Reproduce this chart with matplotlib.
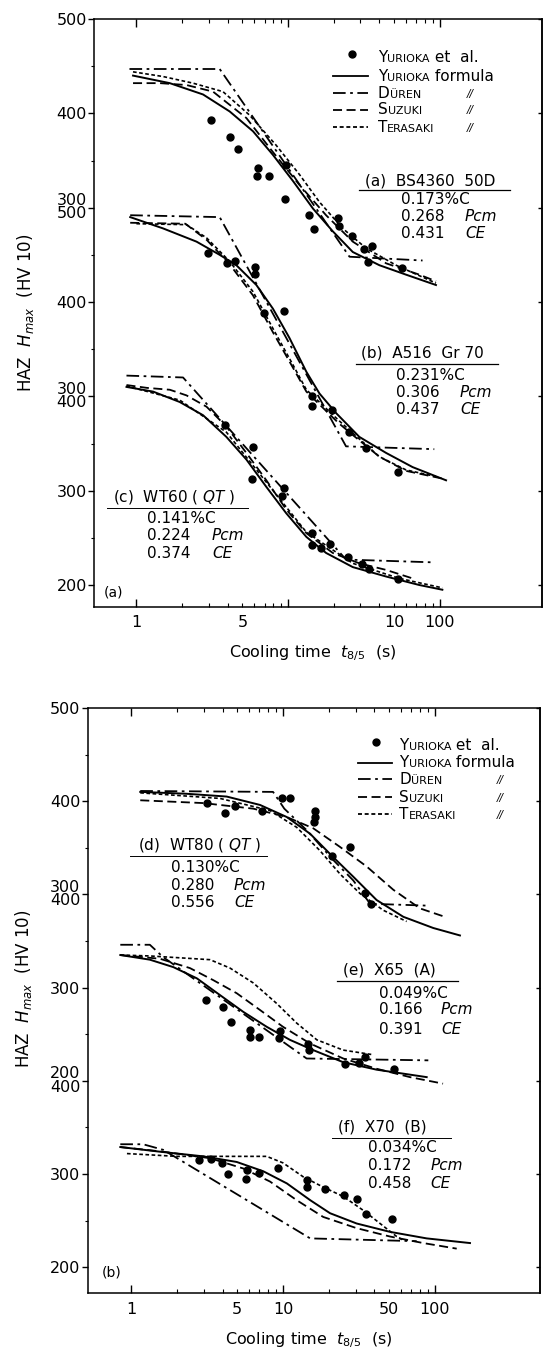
import matplotlib
matplotlib.use("Agg")
import matplotlib.pyplot as plt
from matplotlib.lines import Line2D
from matplotlib.ticker import FixedLocator, NullFormatter

plt.rcParams["font.family"] = "DejaVu Sans"
plt.rcParams["mathtext.fontset"] = "dejavusans"

# ---------------- data (cooling time t8/5 in s, hardness HV) ----------------
# (a) BS4360 50D
a_dot_t = [3.12, 4.17, 4.65, 6.3, 6.21, 7.52, 9.59, 9.73, 13.8, 14.8, 21.3, 21.7, 26.3, 31.7, 35.7, 33.8, 56.5]
a_dot_hv = [393, 375, 362, 342, 334, 334, 309, 345, 292, 277, 289, 281, 270, 256, 259, 242, 236]
a_yur_t = [0.95, 1.66, 2.75, 4.12, 5.87, 7.94, 10.8, 14.6, 19.7, 26.7, 40, 59.9, 94.4]
a_yur_hv = [440, 432, 420, 402, 381, 356, 328, 299, 275, 253, 239, 229, 218]
a_dur_t = [0.9, 3.54, 25.4, 77]
a_dur_hv = [447, 447, 248, 244]
a_suz_t = [0.95, 1.43, 2.14, 3.2, 5.31, 7.94, 11.9, 17.8, 26.7, 44.3, 73.3, 94.4]
a_suz_hv = [432, 432, 430, 423, 395, 359, 324, 292, 264, 241, 229, 222]
a_ter_t = [0.95, 1.5, 2.36, 3.72, 5.58, 8.36, 11.9, 16.1, 22.9, 32.7, 51.5, 94.4]
a_ter_hv = [444, 439, 432, 423, 398, 366, 335, 306, 278, 257, 239, 220]

# (b) A516 Gr 70
b_dot_t = [2.97, 3.96, 4.49, 6.09, 6.02, 6.93, 9.34, 14.4, 14.4, 19.4, 25.4, 32.7, 52.8]
b_dot_hv = [452, 441, 443, 437, 430, 388, 390, 300, 290, 285, 262, 245, 220]
b_yur_t = [0.91, 1.5, 2.49, 3.54, 4.56, 6.18, 7.94, 10.2, 13.2, 16.1, 20.8, 29.5, 44.3, 66.2, 110]
b_yur_hv = [490, 478, 464, 450, 439, 418, 393, 362, 326, 303, 282, 257, 240, 225, 211]
b_dur_t = [0.91, 3.54, 24.1, 92]
b_dur_hv = [492, 490, 247, 244]
b_suz_t = [0.91, 2.1, 2.9, 4.12, 5.87, 7.94, 10.8, 13.2, 21.4, 26.7, 40, 59.9, 110]
b_suz_hv = [484, 483, 466, 440, 407, 368, 330, 305, 272, 259, 236, 221, 212]
b_ter_t = [1.0, 2.14, 2.9, 4.12, 5.87, 7.94, 10.8, 13.2, 21.4, 26.7, 40, 59.9, 94.4]
b_ter_hv = [483, 482, 468, 443, 411, 372, 333, 307, 275, 261, 236, 222, 215]

# (c) WT60 (QT)
c_dot_t = [3.82, 5.87, 5.81, 9.38, 9.16, 14.3, 14.3, 16.5, 19.0, 24.7, 30.8, 34.4, 52.8]
c_dot_hv = [370, 346, 312, 303, 294, 255, 242, 239, 243, 230, 222, 217, 206]
c_yur_t = [0.86, 1.29, 1.93, 2.75, 3.92, 5.31, 7.19, 9.73, 13.2, 17.8, 26.7, 44.3, 73.3, 104]
c_yur_hv = [410, 405, 394, 380, 357, 333, 304, 276, 251, 234, 219, 209, 200, 195]
c_dur_t = [0.86, 2.03, 24.1, 92]
c_dur_hv = [422, 420, 227, 224]
c_suz_t = [0.86, 1.17, 1.66, 2.14, 2.9, 3.92, 5.31, 7.19, 9.73, 13.2, 19.7, 29.5, 44.3, 66.2]
c_suz_hv = [412, 409, 407, 401, 389, 368, 340, 311, 280, 255, 234, 223, 216, 207]
c_ter_t = [0.86, 1.93, 3.92, 7.19, 13.2, 26.7, 54.2, 104]
c_ter_hv = [411, 396, 362, 309, 256, 223, 207, 197]

# (d) WT80 (QT)
d_dot_t = [3.18, 4.17, 4.83, 7.24, 9.8, 11.1, 16.2, 16.2, 16.1, 27.6, 20.9, 34.6, 37.8]
d_dot_hv = [398, 387, 395, 390, 403, 403, 389, 383, 378, 351, 341, 302, 290]
d_yur_t = [1.15, 2.32, 4.26, 7.06, 10.6, 15.1, 21.4, 29, 41.3, 61.9, 97.4, 146]
d_yur_hv = [410, 408, 405, 396, 383, 365, 340, 319, 294, 276, 264, 256]
d_dur_t = [1.15, 8.6, 10.2, 14.3, 21.4, 29, 37.4, 88.6]
d_dur_hv = [411, 410, 392, 369, 337, 315, 290, 288]
d_suz_t = [1.15, 2.99, 6.38, 10.6, 15.8, 23.7, 35.5, 53.2, 79.7, 116]
d_suz_hv = [401, 398, 392, 383, 371, 351, 330, 305, 285, 276]
d_ter_t = [1.15, 3.85, 8.21, 12.3, 17.5, 23.7, 32.1, 45.7, 65.1]
d_ter_hv = [409, 403, 390, 372, 347, 322, 301, 283, 271]

# (e) X65 (A)
e_dot_t = [3.1, 4.01, 4.53, 6.1, 6.06, 6.98, 9.55, 9.46, 14.5, 14.9, 25.6, 31.8, 34.6, 53.7]
e_dot_hv = [287, 279, 263, 255, 247, 247, 254, 246, 240, 233, 218, 219, 226, 213]
e_yur_t = [0.85, 1.33, 1.9, 2.71, 3.85, 5.48, 7.81, 11.1, 15.8, 24.9, 41.3, 88.2]
e_yur_hv = [335, 330, 322, 310, 292, 274, 258, 244, 233, 220, 212, 204]
e_dur_t = [0.85, 1.33, 1.62, 14.3, 90.4]
e_dur_hv = [346, 346, 333, 224, 222]
e_suz_t = [0.85, 1.55, 2.44, 3.48, 4.96, 7.06, 10.0, 15.1, 24.9, 41.3, 68.5, 113]
e_suz_hv = [335, 331, 321, 308, 294, 276, 258, 240, 224, 213, 204, 197]
e_ter_t = [0.85, 1.33, 3.31, 4.48, 6.38, 9.09, 12.3, 16.7, 24.9, 39.3]
e_ter_hv = [335, 334, 330, 321, 305, 283, 262, 244, 233, 228]

# (f) X70 (B)
f_dot_t = [2.81, 3.36, 3.95, 4.37, 5.77, 5.71, 6.95, 9.23, 14.3, 14.3, 18.9, 25.3, 30.8, 35.2, 51.9]
f_dot_hv = [315, 316, 312, 300, 304, 295, 301, 307, 294, 286, 284, 278, 273, 257, 252]
f_yur_t = [0.85, 1.55, 2.99, 4.96, 7.42, 10.6, 15.1, 20.4, 30.5, 50.6, 88.2, 170]
f_yur_hv = [329, 324, 319, 313, 303, 290, 272, 258, 247, 238, 231, 226]
f_dur_t = [0.85, 1.2, 1.63, 15.1, 75.8]
f_dur_hv = [332, 332, 326, 231, 228]
f_suz_t = [0.85, 1.63, 3.31, 5.48, 8.21, 12.3, 18.4, 30.5, 50.6, 83.7, 139]
f_suz_hv = [329, 324, 317, 306, 292, 272, 254, 242, 233, 226, 220]
f_ter_t = [0.94, 2.0, 7.81, 10.0, 13.6, 18.4, 24.9, 33.8, 43.5, 56, 61.9]
f_ter_hv = [322, 319, 319, 312, 297, 286, 276, 261, 247, 233, 229]

# steel compositions: title, %C, Pcm, CE
a_info = ["(a)  BS4360  50D", "0.173%C", "0.268", "0.431"]
b_info = ["(b)  A516  Gr 70", "0.231%C", "0.306", "0.437"]
c_info = [r"(c)  WT60 ( $\mathit{QT}$ )", "0.141%C", "0.224", "0.374"]
d_info = [r"(d)  WT80 ( $\mathit{QT}$ )", "0.130%C", "0.280", "0.556"]
e_info = ["(e)  X65  (A)", "0.049%C", "0.166", "0.391"]
f_info = ["(f)  X70  (B)", "0.034%C", "0.172", "0.458"]

# stacked y-axis labels (bottom to top), pairs at the joins
a_ylabels = ["200", "300", "", "400", "", "400", "500"]
a_pairs = {200: ("300", "400"), 400: ("300", "500")}
b_ylabels = ["200", "300", "", "300", "", "400", "500"]
b_pairs = {200: ("200", "400"), 400: ("300", "400")}
a_xlabels = {1: "1", 5: "5", 50: "10", 100: "100"}
b_xlabels = {1: "1", 5: "5", 10: "10", 50: "50", 100: "100"}

# ---------------- figure ----------------
W, H = 544, 1354
fig = plt.figure(figsize=(W / 100, H / 100), dpi=100)


def fx(px):
    return px / W


def fy(py):
    return 1 - py / H


ax_a = fig.add_axes([fx(94.4), fy(607), (542 - 94.4) / W, (607 - 19) / H])
ax_b = fig.add_axes([fx(88), fy(1293.3), (540 - 88) / W, (1293.3 - 708) / H])

DUR = (0, (7, 2.5, 1.5, 2.5))
SUZ = (0, (5, 2.5))
TER = (0, (2.2, 1.5))


def setup(ax, xlim, ylow, ylabels, pairs, xlabels, xoff):
    ax.set_xscale("log")
    ax.set_xlim(*xlim)
    ax.set_ylim(ylow, 600)
    for s in ax.spines.values():
        s.set_linewidth(1.1)
    ax.xaxis.set_major_locator(FixedLocator([1, 10, 100]))
    ax.xaxis.set_minor_locator(FixedLocator([2, 3, 4, 5, 6, 7, 8, 9, 20, 30, 40, 50, 60, 70, 80, 90]))
    ax.xaxis.set_major_formatter(NullFormatter())
    ax.xaxis.set_minor_formatter(NullFormatter())
    ax.tick_params(axis="x", which="both", direction="in", top=True, bottom=True)
    ax.tick_params(axis="x", which="major", length=6, width=1)
    ax.tick_params(axis="x", which="minor", length=3, width=0.8)
    ax.yaxis.set_major_locator(FixedLocator(list(range(0, 601, 100))))
    ax.yaxis.set_minor_locator(FixedLocator(list(range(50, 600, 100))))
    ax.set_yticklabels(ylabels)
    ax.tick_params(axis="y", which="major", direction="out", length=4.5, width=1, pad=1, labelsize=11.5)
    ax.tick_params(axis="y", which="minor", direction="out", length=2.5, width=0.8)
    sec = ax.secondary_yaxis("right")
    sec.set_yticks(list(range(0, 601, 100)))
    sec.set_yticklabels([])
    sec.tick_params(direction="in", length=3, width=1)
    sec.spines["right"].set_linewidth(1.1)
    for v, (up, low) in pairs.items():
        ax.annotate(up, xy=(0, v), xycoords=("axes fraction", "data"), xytext=(-5.5, 5),
                    textcoords="offset points", ha="right", va="center", fontsize=11.5)
        ax.annotate(low, xy=(0, v), xycoords=("axes fraction", "data"), xytext=(-5.5, -4.5),
                    textcoords="offset points", ha="right", va="center", fontsize=11.5)
    for t, lab in xlabels.items():
        ax.annotate(lab, xy=(t, 0), xycoords=("data", "axes fraction"), xytext=(0, xoff),
                    textcoords="offset points", ha="center", va="center", fontsize=11.5)


def draw(ax, shift, dot_t, dot_hv, yur_t, yur_hv, dur_t, dur_hv, suz_t, suz_hv, ter_t, ter_hv):
    ax.plot(yur_t, [h + shift for h in yur_hv], color="black", lw=1.4)
    ax.plot(dur_t, [h + shift for h in dur_hv], color="black", lw=1.3, linestyle=DUR)
    ax.plot(suz_t, [h + shift for h in suz_hv], color="black", lw=1.3, linestyle=SUZ)
    ax.plot(ter_t, [h + shift for h in ter_hv], color="black", lw=1.2, linestyle=TER)
    ax.plot(dot_t, [h + shift for h in dot_hv], "o", ms=5, color="black")


setup(ax_a, (0.5285, 472), -23.3, a_ylabels, a_pairs, a_xlabels, -11.5)
setup(ax_b, (0.521, 491), -27.9, b_ylabels, b_pairs, b_xlabels, -12)

draw(ax_a, 100, a_dot_t, a_dot_hv, a_yur_t, a_yur_hv, a_dur_t, a_dur_hv, a_suz_t, a_suz_hv, a_ter_t, a_ter_hv)
draw(ax_a, -100, b_dot_t, b_dot_hv, b_yur_t, b_yur_hv, b_dur_t, b_dur_hv, b_suz_t, b_suz_hv, b_ter_t, b_ter_hv)
draw(ax_a, -200, c_dot_t, c_dot_hv, c_yur_t, c_yur_hv, c_dur_t, c_dur_hv, c_suz_t, c_suz_hv, c_ter_t, c_ter_hv)
draw(ax_b, 100, d_dot_t, d_dot_hv, d_yur_t, d_yur_hv, d_dur_t, d_dur_hv, d_suz_t, d_suz_hv, d_ter_t, d_ter_hv)
draw(ax_b, 0, e_dot_t, e_dot_hv, e_yur_t, e_yur_hv, e_dur_t, e_dur_hv, e_suz_t, e_suz_hv, e_ter_t, e_ter_hv)
draw(ax_b, -200, f_dot_t, f_dot_hv, f_yur_t, f_yur_hv, f_dur_t, f_dur_hv, f_suz_t, f_suz_hv, f_ter_t, f_ter_hv)

# axis labels and panel tags
for yc, yl in [(652.7, 313), (1340, 989)]:
    pass
fig.text(fx(312.5), fy(652.7), r"Cooling time  $t_{8/5}$  (s)", ha="center", va="center", fontsize=11.5)
fig.text(fx(309), fy(1340), r"Cooling time  $t_{8/5}$  (s)", ha="center", va="center", fontsize=11.5)
fig.text(fx(26), fy(313), r"HAZ  $H_{max}$  (HV 10)", rotation=90, ha="center", va="center", fontsize=12)
fig.text(fx(24), fy(989), r"HAZ  $H_{max}$  (HV 10)", rotation=90, ha="center", va="center", fontsize=12)
fig.text(fx(104), fy(593), "(a)", ha="left", va="center", fontsize=10)
fig.text(fx(102), fy(1273), "(b)", ha="left", va="center", fontsize=10)

renderer = fig.canvas.get_renderer()


def caps(px, py, pieces):
    x = px
    for s, size in pieces:
        t = fig.text(fx(x), fy(py), s, fontsize=size, va="baseline", ha="left")
        x = t.get_window_extent(renderer).x1
    return x


def legend(x0, x1, xt, xm, rows):
    BIG, SMALL = 11, 8
    fig.add_artist(Line2D([fx((x0 + x1) / 2 + 1)], [fy(rows[0] - 3)], marker="o", ms=5,
                          color="black", transform=fig.transFigure))
    for y, ls in zip(rows[1:], ["-", DUR, SUZ, TER]):
        fig.add_artist(Line2D([fx(x0), fx(x1)], [fy(y), fy(y)], color="black", lw=1.3,
                              linestyle=ls, transform=fig.transFigure))
    caps(xt, rows[0] + 5, [("Y", BIG), ("URIOKA", SMALL), (" et  al.", BIG)])
    caps(xt, rows[1] + 5, [("Y", BIG), ("URIOKA", SMALL), (" formula", BIG)])
    caps(xt, rows[2] + 5, [("D", BIG), ("ÜREN", SMALL)])
    caps(xt, rows[3] + 5, [("S", BIG), ("UZUKI", SMALL)])
    caps(xt, rows[4] + 5, [("T", BIG), ("ERASAKI", SMALL)])
    for y in rows[2:]:
        fig.text(fx(xm), fy(y + 4), "//", fontsize=7.5, fontstyle="italic", va="baseline", ha="center")


legend(333, 368, 377.8, 470.5, [56.7, 76, 93, 109.5, 127])
legend(357.6, 392.4, 399.3, 500, [745, 762.5, 779.3, 796.7, 814])


def info(vals, xt, yt, lx0, lx1, ly, xn, xs, rows, fine=False):
    fig.text(fx(xt), fy(yt), vals[0], fontsize=11, ha="left", va="center")
    fig.add_artist(Line2D([fx(lx0), fx(lx1)], [fy(ly), fy(ly)], color="black",
                          lw=0.7 if fine else 0.9, transform=fig.transFigure))
    fig.text(fx(xn), fy(rows[0]), vals[1], fontsize=11, ha="left", va="center")
    fig.text(fx(xn), fy(rows[1]), vals[2], fontsize=11, ha="left", va="center")
    fig.text(fx(xn), fy(rows[2]), vals[3], fontsize=11, ha="left", va="center")
    fig.text(fx(xs), fy(rows[1]), "Pcm", fontsize=11, fontstyle="italic", ha="left", va="center")
    fig.text(fx(xs), fy(rows[2]), "CE", fontsize=11, fontstyle="italic", ha="left", va="center")


info(a_info, 365, 181, 359, 510, 189.5, 401, 465, [199.5, 216.5, 233.5])
info(b_info, 361, 353, 356, 498, 364, 396, 460, [375.5, 392.5, 409.5])
info(c_info, 113, 497, 107, 248, 508, 147.5, 212, [518.5, 535.5, 553], fine=True)
info(d_info, 138, 845, 130, 267, 856, 171, 234, [867, 885, 902.5], fine=True)
info(e_info, 343, 970, 337, 458, 981, 378.5, 441, [993, 1010, 1029])
info(f_info, 338, 1126.5, 331.6, 451, 1138.3, 368, 430.5, [1147, 1165, 1184], fine=True)

fig.savefig("out.png", dpi=100)
